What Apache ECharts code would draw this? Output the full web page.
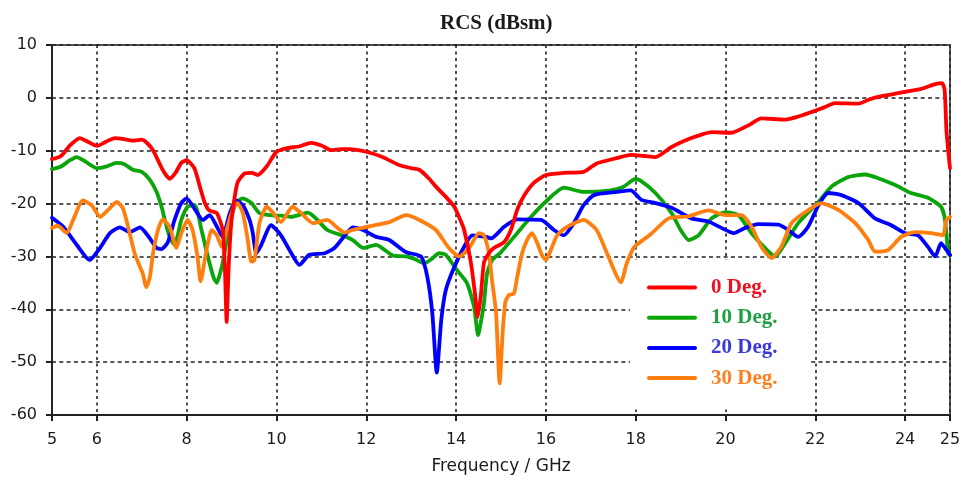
<!DOCTYPE html>
<html>
<head>
<meta charset="utf-8">
<script src="https://cdn.jsdelivr.net/npm/echarts@6/dist/echarts.min.js"></script>
<style>
html,body{margin:0;padding:0;background:#fff;}
#chart{width:963px;height:487px;}
</style>
</head>
<body>
<div id="chart"></div>
<script>
// ---- data (frequency in GHz, RCS in dBsm) ----
const xTickValues = [5, 6, 8, 10, 12, 14, 16, 18, 20, 22, 24, 25];
const seriesNames = ['0 Deg.', '10 Deg.', '20 Deg.', '30 Deg.'];

const deg0Freq = [5.0,5.2,5.4,5.62,5.8,6.0,6.2,6.4,6.6,6.8,7.0,7.1,7.25,7.47,7.62,7.75,7.88,8.0,8.17,8.3,8.4,8.5,8.67,8.8,8.85,8.89,8.93,8.98,9.03,9.13,9.29,9.45,9.58,9.78,10.0,10.24,10.5,10.77,11.0,11.22,11.45,11.62,12.0,12.36,12.73,13.0,13.18,13.4,13.55,13.8,13.96,14.1,14.18,14.33,14.42,14.48,14.55,14.62,14.73,14.84,15.07,15.22,15.36,15.5,15.73,16.0,16.4,16.84,17.13,17.58,17.89,18.2,18.44,18.8,19.18,19.45,19.69,20.13,20.51,20.8,21.33,21.6,21.91,22.2,22.44,22.96,23.2,23.4,23.91,24.36,24.67,24.82,24.88,24.92,24.96,25.0];
const deg0Rcs = [-11.6,-11.0,-9.0,-7.6,-8.3,-9.1,-8.3,-7.6,-7.8,-8.1,-7.9,-8.4,-9.9,-13.7,-15.3,-14.2,-12.3,-11.8,-13.3,-17,-19.8,-21.3,-21.8,-25,-32,-42.4,-33,-25,-21,-16.1,-14.3,-14.2,-14.6,-13,-10.2,-9.5,-9.2,-8.5,-9.0,-9.9,-9.7,-9.7,-10.2,-11.2,-12.7,-13.3,-13.6,-15.3,-16.8,-19.0,-20.6,-23.2,-25,-31.2,-37,-41.5,-37.5,-31.2,-29.4,-28.4,-27.3,-25,-21.2,-18.7,-16.1,-14.6,-14.2,-14.0,-12.4,-11.4,-10.8,-11.0,-11.2,-9.3,-7.8,-7.0,-6.5,-6.6,-5.2,-3.9,-4.1,-3.6,-2.7,-1.8,-1.0,-1.1,-0.3,0.2,1.0,1.7,2.6,2.8,1.5,-6,-10,-13.3];

const deg10Freq = [5.0,5.2,5.4,5.55,5.7,6.0,6.2,6.44,6.6,6.8,7.0,7.18,7.33,7.44,7.51,7.62,7.73,7.8,7.88,8.02,8.18,8.33,8.47,8.6,8.67,8.75,8.8,8.96,9.1,9.25,9.44,9.62,9.88,10.1,10.33,10.7,10.9,11.13,11.45,11.7,11.93,12.22,12.58,12.89,13.1,13.29,13.45,13.62,13.77,14.02,14.24,14.4,14.49,14.56,14.62,14.69,14.8,15.0,15.29,15.67,16.0,16.4,16.84,17.44,17.73,17.98,18.1,18.44,18.8,19.0,19.18,19.4,19.69,20.0,20.29,20.58,20.96,21.11,21.33,21.62,22.07,22.36,22.73,23.11,23.4,23.78,24.13,24.51,24.8,24.89,24.96,25.0];
const deg10Rcs = [-13.5,-13.0,-11.8,-11.2,-11.8,-13.3,-13.0,-12.3,-12.5,-13.6,-14.0,-15.5,-17.8,-20.6,-23,-26.3,-27.8,-26,-23.1,-20.6,-20.3,-25,-30,-34,-35,-33,-31.3,-23.7,-19.9,-19,-19.9,-21.8,-22.2,-22.3,-22.5,-21.7,-23,-25,-26,-26.9,-28.4,-27.8,-29.8,-30,-30.6,-31.3,-30.5,-29.4,-29.7,-32.6,-35,-39.5,-44.9,-42,-38.9,-33.2,-30.7,-29.2,-26.3,-22.5,-19.6,-17.0,-17.8,-17.5,-16.8,-15.4,-15.6,-18,-21.8,-25,-26.9,-26,-22.8,-21.6,-22.2,-25.6,-29.1,-30,-27.5,-23.7,-19.7,-16.8,-15,-14.5,-15.2,-16.5,-18,-18.9,-20.6,-23.1,-29.4,-29.8];

const deg20Freq = [5.0,5.25,5.55,5.84,6.07,6.29,6.51,6.73,6.96,7.13,7.33,7.44,7.58,7.73,7.88,8.0,8.22,8.36,8.51,8.65,8.8,8.96,9.1,9.25,9.4,9.47,9.55,9.65,9.88,10.1,10.33,10.51,10.73,11.07,11.29,11.45,11.7,11.93,12.22,12.51,12.89,13.22,13.36,13.47,13.57,13.67,13.77,13.96,14.22,14.36,14.67,14.78,15.07,15.36,15.89,16.18,16.4,16.62,16.84,17.07,17.58,17.89,18.13,18.44,18.8,19.24,19.62,19.91,20.18,20.44,20.73,21.18,21.4,21.62,21.84,22.07,22.29,22.58,22.96,23.33,23.69,24.0,24.29,24.51,24.67,24.8,24.89,25.0];
const deg20Rcs = [-22.7,-24.4,-27.8,-30.7,-28.4,-25.6,-24.5,-25.4,-24.5,-26,-28.4,-28.6,-27.3,-23.1,-19.9,-19.0,-21.6,-23.1,-22.2,-24,-26.3,-21.8,-19.4,-20.3,-23.1,-25.5,-29.4,-28,-24.1,-26,-29.4,-31.6,-29.7,-29.4,-28.4,-26.8,-24.5,-25,-26.3,-26.9,-29.2,-30,-33.9,-40.7,-52,-42,-36.4,-32,-27.5,-26,-26.3,-26.6,-24.4,-23,-23.1,-25,-26,-23.7,-20.3,-18.4,-17.8,-17.5,-19.3,-19.9,-20.8,-22.8,-23.4,-24.6,-25.6,-24.6,-23.9,-24.0,-25,-26.3,-24.4,-20.3,-18,-18.4,-19.9,-22.8,-24.1,-25.6,-26,-28.2,-30,-27.5,-28.4,-29.7];

const deg30Freq = [5.0,5.13,5.33,5.47,5.69,5.88,6.07,6.25,6.44,6.58,6.73,6.84,6.96,7.02,7.1,7.18,7.25,7.36,7.47,7.62,7.77,7.88,8.02,8.13,8.24,8.31,8.44,8.56,8.67,8.78,8.89,9.02,9.13,9.25,9.36,9.44,9.51,9.62,9.78,9.91,10.1,10.36,10.55,10.81,11.13,11.36,11.51,11.7,12.13,12.51,12.89,13.18,13.55,13.84,14.07,14.29,14.51,14.62,14.73,14.8,14.89,14.97,15.04,15.1,15.18,15.29,15.36,15.47,15.58,15.69,15.8,15.91,16.0,16.11,16.25,16.47,16.84,17.13,17.36,17.67,17.8,17.96,18.07,18.36,18.73,19.18,19.62,20.0,20.36,20.58,20.8,21.02,21.24,21.47,21.78,22.13,22.51,22.89,23.18,23.33,23.62,23.91,24.22,24.58,24.84,24.92,25.0];
const deg30Rcs = [-24.6,-24.2,-25.6,-23.1,-19.4,-20.3,-22.5,-21.2,-19.7,-20.9,-25.6,-29.4,-32,-33.2,-35.8,-33.9,-29.4,-25,-23,-24.4,-28.4,-25.6,-23.1,-25,-30,-34.7,-28.8,-25,-26,-28.2,-25,-21.2,-19.9,-21.8,-26.9,-31,-30.7,-23.7,-20.6,-21.6,-23.5,-20.6,-21.8,-23.7,-23.1,-24.6,-25.5,-25,-24.2,-23.5,-22.2,-23.1,-25,-28.4,-30,-28.4,-25.6,-26,-29.4,-34.5,-40.7,-54,-44,-38.5,-37.3,-37,-33.9,-29.4,-26.9,-25.6,-27.3,-29.7,-30.7,-28.8,-26,-24.4,-23.1,-25,-29.4,-34.9,-31.3,-28.3,-27.5,-25.6,-22.8,-22.4,-21.3,-22.2,-22.2,-24.4,-28.2,-30.3,-28.2,-23.7,-21.6,-19.9,-21.2,-23.7,-26.9,-29.1,-28.8,-26.3,-25.4,-25.6,-26,-23.1,-22.5];

const lineColors = ['#ff0000', '#0aa50a', '#0000ff', '#ff7f0e'];
const textColors = ['#ee1022', '#1fa045', '#3a3ad8', '#ff7f1e'];

function pairs(xs, ys) { return xs.map((x, i) => [x, ys[i]]); }
const allData = [pairs(deg0Freq, deg0Rcs), pairs(deg10Freq, deg10Rcs), pairs(deg20Freq, deg20Rcs), pairs(deg30Freq, deg30Rcs)];
const zOrder = [6, 3, 4, 5];

const chart = echarts.init(document.getElementById('chart'), null, {renderer: 'canvas'});
const tickFont = {fontFamily: 'DejaVu Sans', fontSize: 16, color: '#1a1a1a'};
const legendLineIcon = 'path://M2,0L48,0A2,2 0 0 1 48,4L2,4A2,2 0 0 1 2,0Z';

chart.setOption({
  animation: false,
  backgroundColor: '#ffffff',
  title: {
    text: 'RCS (dBsm)',
    left: 435, top: 8,
    textStyle: {fontFamily: 'Liberation Serif', fontWeight: 'bold', fontSize: 21, color: '#1a1a1a'}
  },
  grid: {
    left: 52, right: 13, top: 45, bottom: 72,
    show: true, borderColor: '#555', borderWidth: 2,
    containLabel: false, outerBoundsMode: 'none'
  },
  legend: {
    orient: 'vertical',
    left: 630, top: 260,
    padding: [17, 33, 21, 17],
    backgroundColor: '#ffffff',
    itemWidth: 50, itemHeight: 21, itemGap: 9.2,
    icon: legendLineIcon,
    selectedMode: false,
    textStyle: {fontFamily: 'Liberation Serif', fontWeight: 'bold', fontSize: 21, lineHeight: 21, padding: [0, 0, 0, 9]},
    data: seriesNames.map((n, i) => ({name: n, textStyle: {color: textColors[i]}, itemStyle: {color: lineColors[i]}}))
  },
  xAxis: {
    type: 'value', min: 5, max: 25,
    name: 'Frequency / GHz', nameLocation: 'middle', nameGap: 43,
    nameTextStyle: {fontFamily: 'DejaVu Sans', fontSize: 17, color: '#1a1a1a'},
    axisLine: {show: true, onZero: false, lineStyle: {color: '#222', width: 2}},
    axisTick: {show: true, length: 6, customValues: xTickValues, lineStyle: {color: '#222', width: 2}},
    axisLabel: Object.assign({margin: 17, customValues: xTickValues}, tickFont),
    splitLine: {show: true, lineStyle: {color: '#222', width: 1.6, type: [3, 3.5]}}
  },
  yAxis: {
    type: 'value', min: -60, max: 10, interval: 10,
    axisLine: {show: true, onZero: false, lineStyle: {color: '#222', width: 2}},
    axisTick: {show: true, length: 6, lineStyle: {color: '#222', width: 2}},
    axisLabel: Object.assign({margin: 15}, tickFont),
    splitLine: {show: true, lineStyle: {color: '#222', width: 1.6, type: [4, 3.3]}}
  },
  series: seriesNames.map((n, i) => ({
    name: n, type: 'line', data: allData[i],
    symbol: 'none', smooth: 0.2, z: zOrder[i],
    color: lineColors[i],
    lineStyle: {color: lineColors[i], width: 3.8, cap: 'round', join: 'round'}
  }))
});
</script>
</body>
</html>
